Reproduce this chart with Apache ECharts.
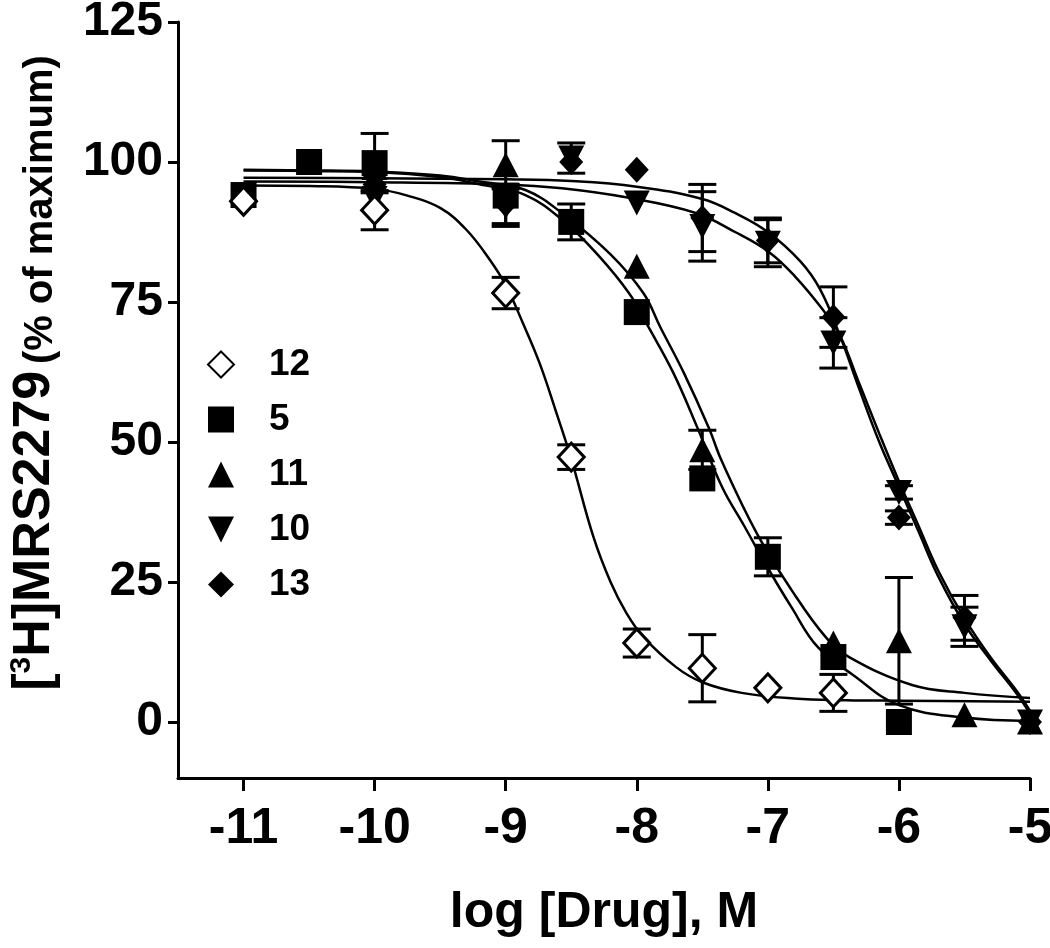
<!DOCTYPE html>
<html>
<head>
<meta charset="utf-8">
<script src="https://cdn.jsdelivr.net/npm/echarts@6/dist/echarts.min.js"></script>
<style>
  html, body { margin: 0; padding: 0; background: #fff; }
  #chart { width: 1050px; height: 948px; }
</style>
</head>
<body>
<div id="chart"></div>
<script>
// ---- Data ----
const xTicks = [-11, -10, -9, -8, -7, -6, -5];
const yTicks = [0, 25, 50, 75, 100, 125];

// Compound 12 (open diamond)
const s12_x   = [-11, -10, -9, -8.5, -8, -7.5, -7, -6.5];
const s12_y   = [93, 91.4, 76.6, 47.3, 14.1, 9.6, 6.1, 5.2];
const s12_err = [0, 3.5, 2.8, 2.2, 2.5, 6, 0, 3.3];

// Compound 5 (filled square)
const s5_x   = [-11, -10.5, -10, -9, -8.5, -8, -7.5, -7, -6.5, -6];
const s5_y   = [94.1, 100, 99.8, 94, 89.3, 73.2, 43.5, 29.5, 11.6, 0];
const s5_err = [0, 0, 5.3, 0, 3.2, 0, 0, 3.4, 0, 0];

// Compound 11 (up triangle)
const s11_x   = [-10, -9, -8, -7.5, -6.5, -6, -5.5, -5];
const s11_y   = [99, 99.5, 81.4, 48.6, 14.1, 14.5, 1.3, 0];
const s11_err = [0, 4.3, 0, 3.5, 0, 11.3, 0, 0];

// Compound 10 (down triangle)
const s10_x   = [-10, -9, -8.5, -8, -7.5, -7, -6.5, -6, -5.5, -5];
const s10_y   = [93.5, 92, 100.7, 92.7, 88.5, 85.5, 67.7, 41, 17, 0];
const s10_err = [0, 3.5, 2.7, 0, 6.2, 4.2, 4.5, 1.2, 3.5, 0];

// Compound 13 (filled diamond)
const s13_x   = [-10, -9, -8.5, -8, -7.5, -7, -6.5, -6, -5.5, -5];
const s13_y   = [96, 92.5, 100, 98.6, 90, 86, 72.3, 36.5, 18.6, 0];
const s13_err = [0, 3.5, 0, 0, 6, 4, 5.4, 1.2, 4, 0];

// Fitted curves
const fit12 = [[-11,95.8],[-10.5,95.7],[-10,95.2],[-9.75,94],[-9.5,91.8],[-9.3,87.9],[-9.12,82.5],[-9,78],[-8.87,71.3],[-8.74,64],[-8.62,55.7],[-8.5,47],[-8.33,33],[-8.2,25],[-8.08,19.5],[-7.95,15.2],[-7.7,9.8],[-7.5,7.1],[-7.2,5.2],[-6.8,4.2],[-6.4,3.9],[-6,3.8],[-5,3.6]];
const fit5  = [[-11,98.5],[-10.5,98.4],[-10,98.2],[-9.5,97.3],[-9.2,96],[-8.85,94.1],[-8.55,89.3],[-8.3,83.5],[-8.06,76.6],[-7.91,70.5],[-7.72,62.3],[-7.54,52.7],[-7.35,42],[-7.18,35],[-7,27.5],[-6.82,20.5],[-6.62,13.4],[-6.35,8.4],[-6,3],[-5.5,0.8],[-5,0.2]];
const fit11 = [[-11,98.6],[-10.5,98.5],[-10,98.3],[-9.5,97.6],[-9.2,96.5],[-8.85,95],[-8.55,90.5],[-8.2,83.5],[-7.95,76.6],[-7.82,70.5],[-7.64,62.3],[-7.45,52.5],[-7.35,46.5],[-7.08,33.5],[-6.82,23.6],[-6.56,15.2],[-6.38,11.6],[-5.9,6.6],[-5.5,5.2],[-5,4.3]];
const fit10 = [[-11,96.5],[-10,96.4],[-9,96.0],[-8.57,95.3],[-8.06,93.6],[-7.55,90.9],[-7.25,87.5],[-6.99,83.9],[-6.79,79.5],[-6.58,73.6],[-6.45,69],[-6.3,60.3],[-6.15,51.5],[-6,43],[-5.85,35],[-5.7,27],[-5.5,18.5],[-5.3,11.5],[-5.1,5.5],[-5,2]];
const fit13 = [[-11,97.2],[-10,97.1],[-9,96.9],[-8.5,96.6],[-8,95.6],[-7.5,93.4],[-7.25,90.9],[-7,87.5],[-6.75,82.2],[-6.6,77.2],[-6.45,69],[-6.3,59.3],[-6.15,50],[-6,42],[-5.85,34],[-5.7,26],[-5.5,17.5],[-5.3,11],[-5.1,5],[-5,1.5]];

// ---- Chart ----
const FONT = '"Liberation Sans", Arial, Helvetica, sans-serif';
const downTri = 'path://M0,0L10,0L5,10Z';

function pts(xs, ys) { return xs.map((x, i) => [x, ys[i]]); }
function errPts(xs, ys, es) {
  const out = [];
  xs.forEach((x, i) => { if (es[i] > 0) out.push([x, ys[i], es[i]]); });
  return out;
}

function renderErr(params, api) {
  const x = api.value(0), y = api.value(1), e = api.value(2);
  const top = api.coord([x, y + e]);
  const bot = api.coord([x, y - e]);
  const hw = 14;
  const st = { stroke: '#000', lineWidth: 3 };
  return {
    type: 'group',
    children: [
      { type: 'line', shape: { x1: top[0], y1: top[1], x2: bot[0], y2: bot[1] }, style: st },
      { type: 'line', shape: { x1: top[0] - hw, y1: top[1], x2: top[0] + hw, y2: top[1] }, style: st },
      { type: 'line', shape: { x1: bot[0] - hw, y1: bot[1], x2: bot[0] + hw, y2: bot[1] }, style: st }
    ]
  };
}

const seriesDefs = [
  { name: '12', x: s12_x, y: s12_y, e: s12_err, fit: fit12, symbol: 'diamond', size: [26, 28], color: '#fff' },
  { name: '5',  x: s5_x,  y: s5_y,  e: s5_err,  fit: fit5,  symbol: 'rect', size: [26, 26], color: '#000' },
  { name: '11', x: s11_x, y: s11_y, e: s11_err, fit: fit11, symbol: 'triangle', size: [26, 25], color: '#000' },
  { name: '10', x: s10_x, y: s10_y, e: s10_err, fit: fit10, symbol: downTri, size: [26, 25], color: '#000' },
  { name: '13', x: s13_x, y: s13_y, e: s13_err, fit: fit13, symbol: 'diamond', size: [24, 26], color: '#000' }
];

const series = [];
seriesDefs.forEach(d => {
  series.push({
    name: 'fit ' + d.name, type: 'line', data: d.fit, smooth: 0.4,
    showSymbol: false, symbol: 'none', z: 2, silent: true,
    lineStyle: { color: '#000', width: 2.5 }
  });
});
seriesDefs.forEach(d => {
  series.push({
    name: 'err ' + d.name, type: 'custom', renderItem: renderErr, z: 3, silent: true,
    data: errPts(d.x, d.y, d.e)
  });
});
seriesDefs.slice().reverse().forEach(d => {
  series.push({
    name: d.name, type: 'scatter', data: pts(d.x, d.y), symbol: d.symbol, symbolSize: d.size, z: 4,
    itemStyle: { color: d.color, borderColor: '#000', borderWidth: d.color === '#fff' ? 3 : 0, opacity: 1 }
  });
});

const chart = echarts.init(document.getElementById('chart'), null, { renderer: 'canvas' });
chart.setOption({
  animation: false,
  backgroundColor: '#fff',
  grid: { left: 178, right: 20, top: 22, bottom: 170, containLabel: false, outerBoundsMode: 'none' },
  legend: {
    data: ['12', '5', '11', '10', '13'],
    orient: 'vertical', left: 202, top: 341,
    itemWidth: 26, itemHeight: 26, itemGap: 18,
    textStyle: { fontFamily: FONT, fontWeight: 'bold', fontSize: 37, color: '#000', padding: [0, 0, 0, 30] },
    selectedMode: false
  },
  xAxis: {
    type: 'value', min: -11.5, max: -5,
    name: 'log [Drug], M', nameLocation: 'middle', nameGap: 110,
    nameTextStyle: { fontFamily: FONT, fontWeight: 'bold', fontSize: 50, color: '#000' },
    axisLine: { onZero: false, lineStyle: { color: '#000', width: 3 } },
    axisTick: { show: true, length: 13, lineStyle: { color: '#000', width: 3 }, customValues: xTicks },
    axisLabel: { fontFamily: FONT, fontWeight: 'bold', fontSize: 50, color: '#000', margin: 26, customValues: xTicks, hideOverlap: false },
    splitLine: { show: false }
  },
  yAxis: {
    type: 'value', min: -10, max: 125,
    axisLine: { show: true, onZero: false, lineStyle: { color: '#000', width: 3 } },
    axisTick: { show: true, length: 10, lineStyle: { color: '#000', width: 3 }, customValues: yTicks },
    axisLabel: { fontFamily: FONT, fontWeight: 'bold', fontSize: 48, color: '#000', margin: 15, customValues: yTicks, hideOverlap: false },
    splitLine: { show: false }
  },
  graphic: [{
    type: 'text', x: 34, y: 373, rotation: Math.PI / 2,
    style: {
      text: '{a|[}{s|3}{a|H]MRS2279}  {b|(% of maximum)}',
      align: 'center', verticalAlign: 'middle',
      rich: {
        a: { fontFamily: FONT, fontWeight: 'bold', fontSize: 52, fill: '#000', verticalAlign: 'bottom', lineHeight: 54 },
        s: { fontFamily: FONT, fontWeight: 'bold', fontSize: 30, fill: '#000', verticalAlign: 'top', lineHeight: 54 },
        b: { fontFamily: FONT, fontWeight: 'bold', fontSize: 40, fill: '#000', verticalAlign: 'bottom', lineHeight: 54 }
      }
    }
  }],
  series: series
});
</script>
</body>
</html>
